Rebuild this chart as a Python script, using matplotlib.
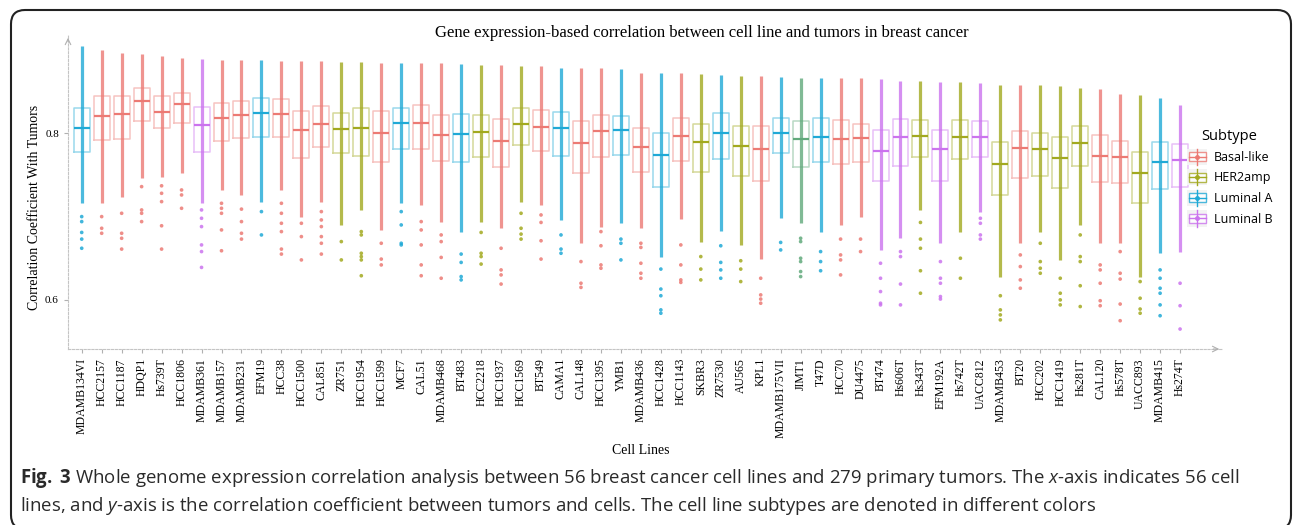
import matplotlib
matplotlib.use("Agg")
import matplotlib.pyplot as plt
from matplotlib.colors import to_rgb
from matplotlib.legend_handler import HandlerBase
from matplotlib.lines import Line2D
from matplotlib.patches import Rectangle, FancyBboxPatch
from matplotlib.transforms import IdentityTransform

plt.rcParams["mathtext.fontset"] = "custom"
plt.rcParams["mathtext.rm"] = "Open Sans"
plt.rcParams["mathtext.it"] = "Open Sans:italic"
plt.rcParams["mathtext.bf"] = "Open Sans:bold"

# cell lines, subtype and per-line correlation summaries
cell_lines = ["MDAMB134VI", "HCC2157", "HCC1187", "HDQP1", "Hs739T", "HCC1806", "MDAMB361",
              "MDAMB157", "MDAMB231", "EFM19", "HCC38", "HCC1500", "CAL851", "ZR751",
              "HCC1954", "HCC1599", "MCF7", "CAL51", "MDAMB468", "BT483", "HCC2218",
              "HCC1937", "HCC1569", "BT549", "CAMA1", "CAL148", "HCC1395", "YMB1",
              "MDAMB436", "HCC1428", "HCC1143", "SKBR3", "ZR7530", "AU565", "KPL1",
              "MDAMB175VII", "JIMT1", "T47D", "HCC70", "DU4475", "BT474", "Hs606T",
              "Hs343T", "EFM192A", "Hs742T", "UACC812", "MDAMB453", "BT20", "HCC202",
              "HCC1419", "Hs281T", "CAL120", "Hs578T", "UACC893", "MDAMB415", "Hs274T"]

B, H, A, L = "Basal-like", "HER2amp", "Luminal A", "Luminal B"
subtype = [A, B, B, B, B, B, L, B, B, A, B, B, B, H,
           H, B, A, B, B, A, H, B, H, B, A, B, B, A,
           B, A, B, H, A, H, B, A, "JIMT1", A, B, B, L, L,
           H, L, H, L, H, B, H, H, H, B, B, H, A, L]

top = [.905, .900, .897, .895, .893, .890, .889, .888, .888, .888, .887, .887, .887, .886,
       .886, .885, .885, .885, .884, .883, .882, .882, .881, .881, .879, .879, .878, .877,
       .872, .872, .872, .871, .870, .869, .869, .868, .867, .866, .866, .866, .865, .863,
       .863, .862, .862, .861, .858, .858, .858, .857, .855, .853, .847, .846, .842, .834]
q3 = [.830, .845, .845, .855, .845, .848, .832, .837, .839, .842, .841, .827, .833, .825,
      .831, .827, .831, .834, .822, .823, .822, .817, .831, .828, .826, .815, .822, .821,
      .806, .800, .819, .811, .824, .809, .809, .819, .815, .819, .816, .811, .804, .817,
      .816, .804, .816, .815, .789, .803, .800, .796, .809, .798, .791, .777, .789, .787]
median = [.807, .821, .823, .839, .826, .835, .810, .819, .822, .825, .823, .804, .811, .805,
          .807, .800, .812, .813, .798, .799, .802, .791, .811, .808, .806, .788, .803, .804,
          .784, .774, .797, .789, .800, .785, .781, .801, .793, .796, .793, .794, .779, .795,
          .797, .781, .796, .795, .763, .782, .781, .770, .788, .773, .771, .752, .765, .768]
q1 = [.778, .792, .793, .815, .806, .812, .778, .791, .794, .795, .795, .770, .784, .776,
      .773, .765, .781, .781, .767, .765, .771, .760, .786, .779, .773, .752, .772, .774,
      .754, .735, .767, .754, .769, .749, .743, .776, .759, .765, .763, .765, .743, .761,
      .771, .743, .769, .772, .726, .746, .749, .734, .761, .741, .740, .716, .733, .736]
low = [.716, .716, .724, .746, .748, .752, .716, .732, .726, .718, .732, .700, .718, .690,
       .708, .684, .716, .714, .694, .682, .694, .686, .718, .714, .696, .668, .688, .692,
       .686, .652, .697, .670, .683, .666, .649, .698, .692, .681, .690, .700, .660, .674,
       .708, .668, .682, .706, .628, .668, .682, .648, .690, .668, .668, .628, .656, .658]
outliers = [
    [.700, .694, .681, .673, .662], [.700, .686, .680], [.704, .680, .674, .661],
    [.736, .708, .704, .694], [.737, .728, .718, .689, .661], [.732, .726, .710],
    [.708, .698, .688, .666, .658, .639], [.716, .710, .704, .684, .659],
    [.709, .694, .680, .673], [.706, .678], [.716, .704, .692, .682, .661, .655],
    [.692, .676, .648], [.706, .696, .688, .676, .668, .655], [.670, .648],
    [.682, .678, .656, .652, .648, .629], [.668, .649, .642], [.706, .690, .668, .666],
    [.694, .684, .666, .642, .629], [.678, .670, .651, .626], [.655, .645, .628, .624],
    [.681, .656, .652, .643], [.662, .636, .630, .619], [.704, .686, .679, .673],
    [.702, .693, .671, .649], [.678, .661, .656], [.646, .620, .615],
    [.682, .665, .642, .638], [.673, .668, .648], [.668, .663, .644, .632, .626],
    [.637, .613, .605, .588, .584], [.666, .642, .624, .621], [.652, .637, .624],
    [.665, .645, .636, .626], [.647, .637, .622], [.626, .606, .601, .596], [.669, .660],
    [.674, .670, .650, .646, .634, .628], [.658, .646, .635], [.673, .654, .648, .630],
    [.673, .658], [.644, .626, .610, .596, .594], [.658, .652, .619, .594],
    [.693, .673, .662, .635, .608], [.646, .626, .620, .604, .601], [.650, .626],
    [.698, .692, .678, .673], [.605, .588, .582, .576], [.654, .640, .624, .614],
    [.668, .646, .638, .632], [.626, .608, .600, .594], [.678, .652, .646, .617, .592],
    [.642, .636, .620, .599, .593], [.658, .632, .625, .595, .575],
    [.622, .602, .589, .584], [.636, .626, .614, .608, .594, .581], [.620, .593, .565]]

colors = {B: "#EC7A74", H: "#A2A91F", A: "#1FA9D6", L: "#CB73EE"}
# JIMT1 shows up as a mix of the HER2amp and Luminal A colours
colors["JIMT1"] = tuple((a + b) / 2 for a, b in zip(to_rgb(colors[H]), to_rgb(colors[A])))

fig = plt.figure(figsize=(12.93, 5.25), dpi=100)
ax = fig.add_axes([0.0526, 0.3352, 0.8925, 0.598])

pos = list(range(1, len(cell_lines) + 1))
stats = [dict(med=m, q1=a, q3=b, whislo=lo, whishi=hi, fliers=[])
         for m, a, b, lo, hi in zip(median, q1, q3, low, top)]
res = ax.bxp(stats, positions=pos, widths=0.8, showcaps=False, showfliers=False,
             boxprops=dict(lw=1.1), medianprops=dict(lw=1.6),
             whiskerprops=dict(visible=False))

for i, s in enumerate(subtype):
    c = colors[s]
    res["boxes"][i].set_color(c)
    res["boxes"][i].set_alpha(0.45)
    res["boxes"][i].set_zorder(2)
    res["medians"][i].set_color(c)
    res["medians"][i].set_zorder(4)
    ax.vlines(pos[i], low[i], top[i], color=c, lw=2.3, alpha=0.8, zorder=3)
    ax.scatter([pos[i]] * len(outliers[i]), outliers[i], s=7, color=c,
               edgecolors="none", alpha=0.85, zorder=3)

ax.set_xlim(0.314, 58.1)
ax.set_ylim(0.541, 0.918)
ax.set_yticks([0.6, 0.8])
ax.set_yticklabels(["0.6", "0.8"], family="Liberation Serif", fontsize=8)
ax.set_xticks(pos)
ax.set_xticklabels(cell_lines, rotation=90, family="Liberation Serif", fontsize=8.5)
ax.tick_params(colors="#b0b0b0", labelcolor="black", length=3, width=0.8)
for side in ["top", "right"]:
    ax.spines[side].set_visible(False)
for side in ["left", "bottom"]:
    ax.spines[side].set_color("#c4c4c4")
    ax.spines[side].set_linestyle((0, (2, 1.5)))
    ax.spines[side].set_linewidth(0.8)
ax.annotate("", xy=(0, 1.0), xytext=(0, 0.97), xycoords="axes fraction",
            arrowprops=dict(arrowstyle="->", color="#b0b0b0", lw=0.8))
ax.annotate("", xy=(1.0, 0), xytext=(0.99, 0), xycoords="axes fraction",
            arrowprops=dict(arrowstyle="->", color="#b0b0b0", lw=0.8))


class BoxHandler(HandlerBase):
    def create_artists(self, legend, orig_handle, xdescent, ydescent, width, height,
                       fontsize, trans):
        c = orig_handle.get_color()
        x0, y0 = -xdescent, -ydescent
        cx, cy = x0 + width / 2, y0 + height / 2
        bg = Rectangle((x0, y0), width, height, fc="#f3f3f3", ec="none", transform=trans)
        box = Rectangle((cx - width * 0.42, y0 + height * 0.22), width * 0.84, height * 0.56,
                        fc="white", ec=c, lw=1, alpha=0.8, transform=trans)
        vl = Line2D([cx, cx], [y0, y0 + height], color=c, lw=1, transform=trans)
        ml = Line2D([cx - width * 0.42, cx + width * 0.42], [cy, cy], color=c, lw=1,
                    transform=trans)
        dot = Line2D([cx], [cy], marker="o", ms=2.5, color=c, transform=trans)
        return [bg, box, vl, ml, dot]


handles = [Line2D([], [], color=colors[s]) for s in [B, H, A, L]]
leg = fig.legend(handles, [B, H, A, L], title="Subtype", loc="upper left",
                 bbox_to_anchor=(1176 / 1293, 1 - 118 / 525), frameon=False,
                 handler_map={Line2D: BoxHandler()}, prop=dict(family="Open Sans", size=9),
                 handlelength=1.6, handleheight=1.6, labelspacing=0.36, handletextpad=0.5)
leg.get_title().set_fontfamily("Open Sans")
leg.get_title().set_fontsize(10.5)

fig.text(702 / 1293, 1 - 33 / 525, "Gene expression-based correlation between cell line and tumors in breast cancer",
         ha="center", va="center", family="Liberation Serif", fontsize=12)
fig.text(35 / 1293, 1 - 207 / 525, "Correlation Coefficient With Tumors", rotation=90,
         ha="center", va="center", family="Liberation Serif", fontsize=10)
fig.text(641 / 1293, 1 - 450 / 525, "Cell Lines", ha="center", va="center",
         family="Liberation Serif", fontsize=10)

caption = ("$\\bf{Fig.}$ $\\bf{3}$ Whole genome expression correlation analysis between 56 breast cancer cell "
           "lines and 279 primary tumors. The $\\it{x}$-axis indicates 56 cell\n"
           "lines, and $\\it{y}$-axis is the correlation coefficient between tumors and cells. "
           "The cell line subtypes are denoted in different colors")
fig.text(20 / 1293, 1 - 466 / 525, caption, ha="left", va="top", family="Open Sans",
         fontsize=13.4, color="#2a2a2a", linespacing=1.3)

border = FancyBboxPatch((11, -4), 1280, 519, boxstyle="round,pad=0,rounding_size=14",
                        fc="none", ec="#222222", lw=1.5, transform=IdentityTransform())
fig.patches.append(border)

fig.savefig("out.png", dpi=100)
